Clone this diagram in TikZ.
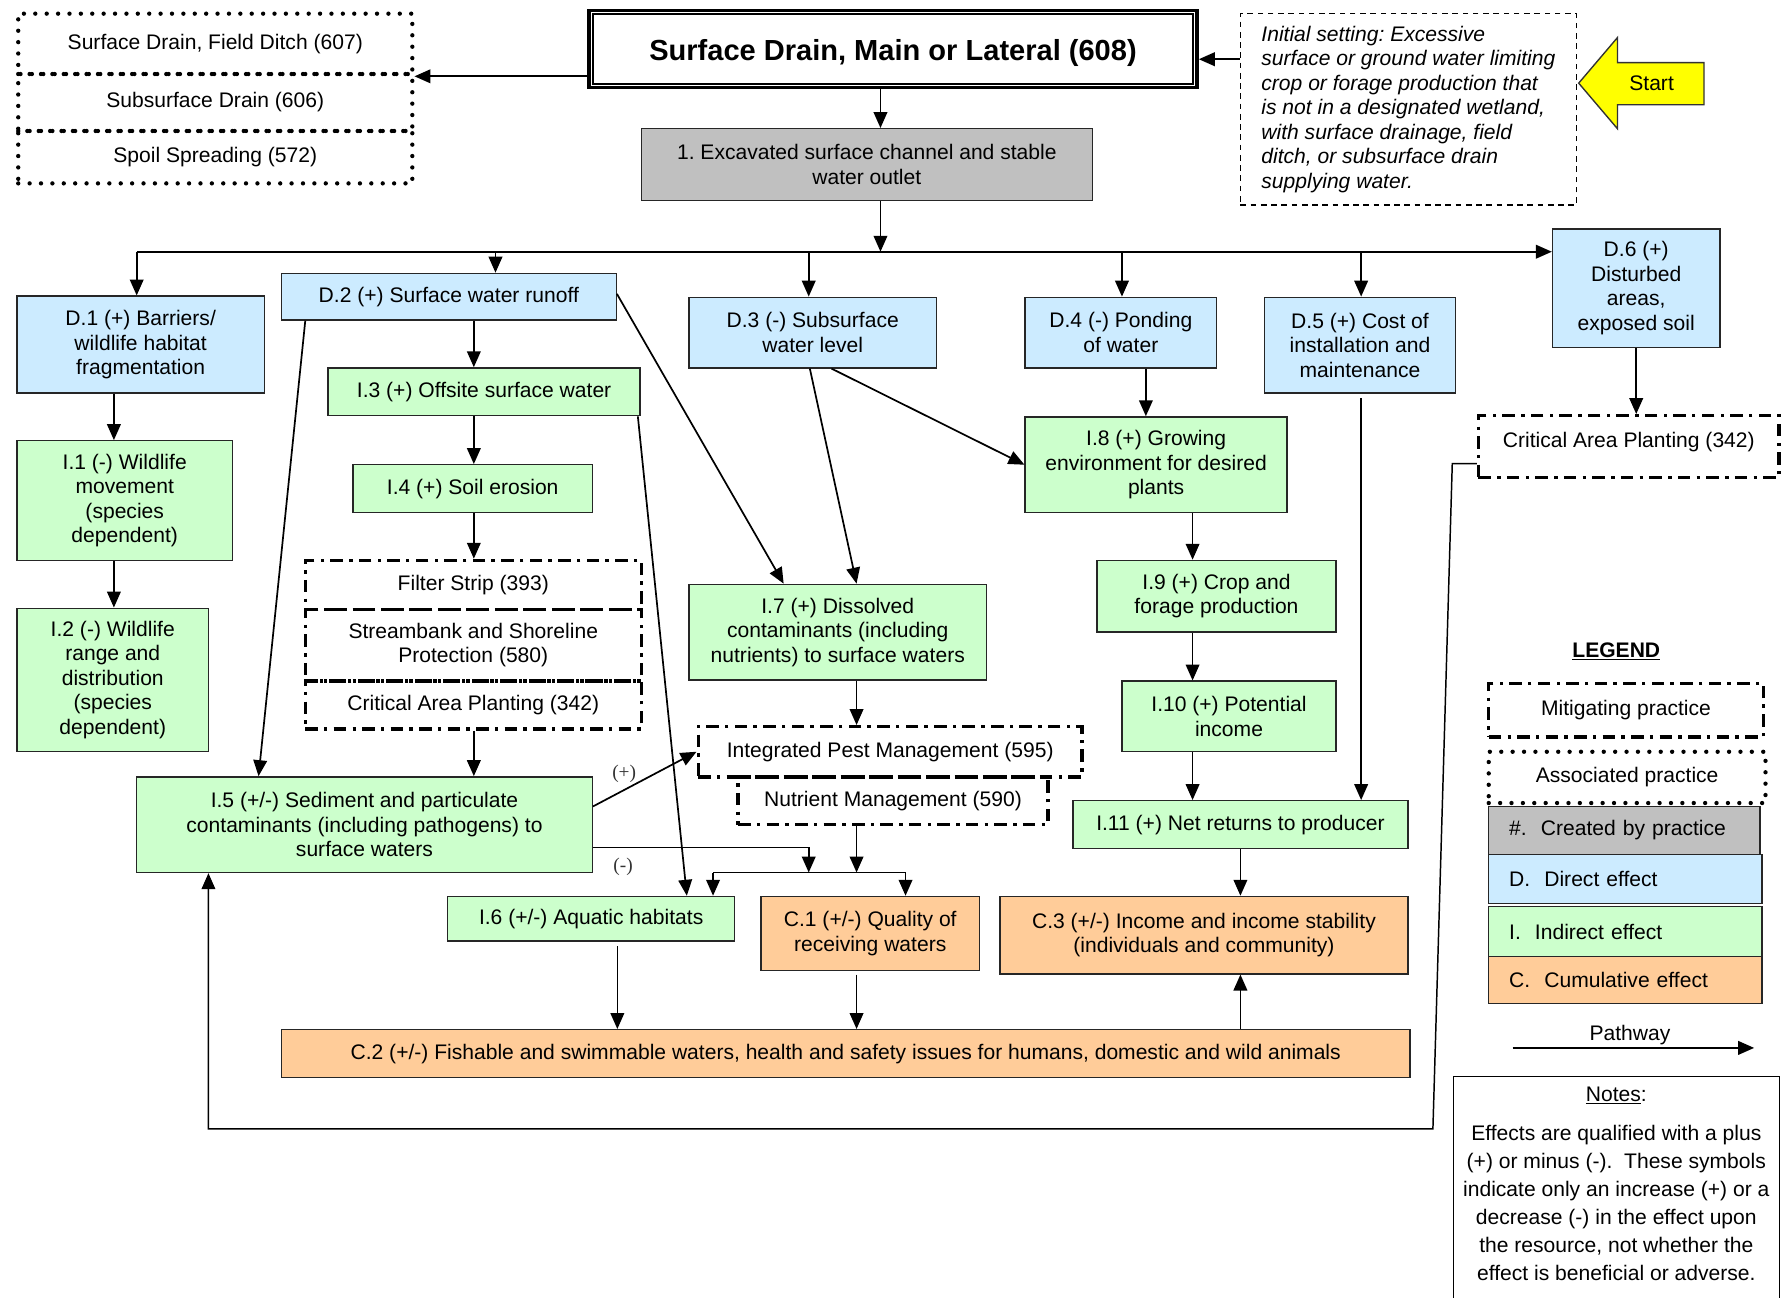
\documentclass[tikz,border=0pt]{standalone}
\usepackage{fontspec}
\setmainfont{Liberation Sans}
\newfontfamily\labelserif{Liberation Serif}
\usetikzlibrary{arrows.meta}

\definecolor{dirblue}{HTML}{CCEBFF}
\definecolor{indgreen}{HTML}{CCFFCC}
\definecolor{cumorange}{HTML}{FFCC99}
\definecolor{crgray}{HTML}{C0C0C0}
\definecolor{startyel}{HTML}{FFFF00}

\newcommand\bodyfont{\fontsize{18.5}{21.5}\selectfont}
\newcommand\notefont{\fontsize{18.5}{24.6}\selectfont}
\frenchspacing

\begin{document}
\begin{tikzpicture}[x=1pt,y=-1pt,
  effect/.style={draw=black!85, line width=1.2pt, inner sep=0pt, align=center, font=\bodyfont},
  created/.style={effect, fill=crgray},
  direct/.style={effect, fill=dirblue},
  indirect/.style={effect, fill=indgreen},
  cumul/.style={effect, fill=cumorange},
  mitig/.style={draw=black, line width=3pt, dash pattern=on 11pt off 5.5pt on 3pt off 5.5pt,
                inner sep=0pt, align=center, font=\bodyfont},
  assoc/.style={draw=black, line width=3.8pt, line cap=round, dash pattern=on 0pt off 10pt,
                inner sep=0pt, align=center, font=\bodyfont},
  sz/.style 2 args={minimum width=#1, minimum height=#2},
  arr/.style={draw=black, line width=1.5pt, -{Triangle[length=14pt,width=12pt]}},
  link/.style={draw=black, line width=1.5pt},
  sign/.style={font=\labelserif\fontsize{17}{17}\selectfont, text=black!80, inner sep=0pt}
]
\useasboundingbox (0,0) rectangle (1568,1139);

% ---- practice and starting condition ----
\node[draw=black, line width=3pt, sz={534pt}{68pt}, inner sep=0pt, text height=24pt, text depth=4pt,
      font=\fontsize{25.5}{30}\selectfont\bfseries] (main) at (784,43)
      {Surface Drain, Main or Lateral (608)};
\draw[line width=1.8pt] ([xshift=5pt,yshift=-5pt]main.north west)
      rectangle ([xshift=-5pt,yshift=5pt]main.south east);

\node[assoc, sz={346pt}{53pt}] (a607) at (189,38.5) {Surface Drain, Field Ditch (607)};
\node[assoc, sz={346pt}{50pt}] (a606) at (189,90) {Subsurface Drain (606)};
\node[assoc, sz={346pt}{46pt}] (a572) at (189,138) {Spoil Spreading (572)};

\node[draw=black, line width=1.2pt, dash pattern=on 5pt off 4pt, sz={295pt}{168pt},
      inner sep=0pt, align=left, font=\bodyfont\itshape] (init) at (1236.5,96)
      {Initial setting: Excessive\\surface or ground water limiting\\crop or forage production that\\
       is not in a designated wetland,\\with surface drainage, field\\ditch, or subsurface drain\\
       supplying water.};

\path[draw=black!80, line width=1.2pt, fill=startyel]
  (1386,73) -- (1420,33) -- (1420,55) -- (1496,55) -- (1496,92) -- (1420,92) -- (1420,113) -- cycle;
\node[font=\bodyfont, inner sep=0pt] (start) at (1450,73) {Start};

\node[created, sz={396pt}{63pt}] (g1) at (761,144.5)
      {1. Excavated surface channel and stable\\water outlet};

% ---- direct effects ----
\node[direct, sz={217pt}{85pt}] (d1) at (123.5,302.5) {D.1 (+) Barriers/\\wildlife habitat\\fragmentation};
\node[direct, sz={294pt}{41pt}] (d2) at (394,260.5) {D.2 (+) Surface water runoff};
\node[direct, sz={217pt}{62pt}] (d3) at (713.5,292) {D.3 (-) Subsurface\\water level};
\node[direct, sz={168pt}{62pt}] (d4) at (984,292) {D.4 (-) Ponding\\of water};
\node[direct, sz={168pt}{84pt}] (d5) at (1194,303) {D.5 (+) Cost of\\installation and\\maintenance};
\node[direct, sz={147pt}{104pt}] (d6) at (1436.5,253) {D.6 (+)\\Disturbed\\areas,\\exposed soil};

\node[mitig, sz={264pt}{54pt}, text height=14pt, text depth=12.5pt] (cap2) at (1430,392)
      {Critical Area Planting (342)};

% ---- indirect effects ----
\node[indirect, sz={189pt}{105pt}] (i1) at (109.5,439.5) {I.1 (-) Wildlife\\movement\\(species\\dependent)};
\node[indirect, sz={168pt}{126pt}] (i2) at (99,597) {I.2 (-) Wildlife\\range and\\distribution\\(species\\dependent)};
\node[indirect, sz={274pt}{42pt}] (i3) at (425,344) {I.3 (+) Offsite surface water};
\node[indirect, sz={210pt}{42pt}] (i4) at (415,429) {I.4 (+) Soil erosion};

\node[mitig, sz={295pt}{43pt}] (fs) at (415.5,513.5) {Filter Strip (393)};
\node[mitig, sz={295pt}{63pt}] (sb) at (415.5,566.5) {Streambank and Shoreline\\Protection (580)};
\node[mitig, sz={295pt}{42pt}] (cap1) at (415.5,619) {Critical Area Planting (342)};

\node[indirect, sz={400pt}{84pt}] (i5) at (320,724)
      {I.5 (+/-) Sediment and particulate\\contaminants (including pathogens) to\\surface waters};
\node[indirect, sz={252pt}{39pt}] (i6) at (519,806.5) {I.6 (+/-) Aquatic habitats};
\node[indirect, sz={261pt}{84pt}] (i7) at (735.5,555)
      {I.7 (+) Dissolved\\contaminants (including\\nutrients) to surface waters};

\node[mitig, sz={337pt}{44pt}] (ipm) at (781.5,660) {Integrated Pest Management (595)};
\node[mitig, sz={272pt}{42pt}] (nm) at (784,703) {Nutrient Management (590)};

\node[indirect, sz={230pt}{84pt}] (i8) at (1015,408) {I.8 (+) Growing\\environment for desired\\plants};
\node[indirect, sz={210pt}{63pt}] (i9) at (1068,523.5) {I.9 (+) Crop and\\forage production};
\node[indirect, sz={188pt}{62pt}] (i10) at (1079,629) {I.10 (+) Potential\\income};
\node[indirect, sz={294pt}{42pt}] (i11) at (1089,724) {I.11 (+) Net returns to producer};

% ---- cumulative effects ----
\node[cumul, sz={192pt}{65pt}] (c1) at (764,819.5) {C.1 (+/-) Quality of\\receiving waters};
\node[cumul, sz={358pt}{68pt}] (c3) at (1057,821) {C.3 (+/-) Income and income stability\\(individuals and community)};
\node[cumul, sz={991pt}{42pt}] (c2) at (742.5,925)
      {C.2 (+/-) Fishable and swimmable waters, health and safety issues for humans, domestic and wild animals};

% ---- pathways ----
\coordinate (bus) at (0,221);
\coordinate (busL) at (120,221);

\draw[arr] (init.west |- 0,52) -- (main.east |- 0,52);
\draw[arr] (main.west |- 0,67) -- (a607.east |- 0,67);
\draw[arr] (main.south -| 773,0) -- (g1.north -| 773,0);
\draw[arr] (g1.south -| 773,0) -- (773,221);

\draw[arr] (busL) -- (d6.west |- bus);
\draw[arr] (busL) -- (d1.north -| busL);
\draw[arr] (435,221) -- (d2.north -| 435,0);
\draw[arr] (710,221) -- (d3.north -| 710,0);
\draw[arr] (985,221) -- (d4.north -| 985,0);
\draw[arr] (1195,221) -- (d5.north -| 1195,0);

\draw[arr] (d6.south) -- (cap2.north -| d6.south);

\draw[arr] (d1.south -| 100,0) -- (i1.north -| 100,0);
\draw[arr] (i1.south -| 100,0) -- (i2.north -| 100,0);

\draw[arr] (d2.south -| 416,0) -- (i3.north -| 416,0);
\draw[arr] (i3.south -| 416,0) -- (i4.north -| 416,0);
\draw[arr] (i4.south -| 416,0) -- (fs.north -| 416,0);
\draw[arr] (cap1.south -| 416,0) -- (i5.north -| 416,0);
\draw[arr] (d2.south -| 268,0) -- (i5.north -| 227,0);
\draw[arr] (i3.south -| 560,0) -- (i6.north -| 603,0);
\draw[arr] (d2.east |- 0,258) -- (i7.north -| 688,0);

\draw[arr] (d3.south -| 711,0) -- (i7.north -| 752,0);
\draw[arr] (d3.south -| 730,0) -- (i8.west);
\draw[arr] (d4.south -| 1006,0) -- (i8.north -| 1006,0);
\draw[arr] (i8.south -| 1047,0) -- (i9.north -| 1047,0);
\draw[arr] (i9.south -| 1047,0) -- (i10.north -| 1047,0);
\draw[arr] (i10.south -| 1047,0) -- (i11.north -| 1047,0);
\draw[arr] ([yshift=-4pt]d5.south -| 1195,0) -- (i11.north -| 1195,0);
\draw[arr] (i11.south) -- (c3.north -| i11.south);
\draw[arr] (c2.north -| i11.south) -- (c3.south -| i11.south);

\draw[arr] (i7.south -| 752,0) -- (ipm.north -| 752,0);
\draw[arr] (i5.east |- 0,708) -- (ipm.west);
\draw[arr] (i5.east |- 0,744) -- (710,744) -- (710,766);
\draw[arr] (nm.south -| 752,0) -- (752,766);
\draw[link] (626,766) -- (795,766);
\draw[arr] (626,766) -- (i6.north -| 626,0);
\draw[arr] (795,766) -- (c1.north -| 795,0);

\draw[arr] ([yshift=-4pt]i6.south -| 542,0) -- (c2.north -| 542,0);
\draw[arr] ([yshift=-3pt]c1.south -| 752,0) -- (c2.north -| 752,0);

\draw[arr, line width=1.3pt] (cap2.west |- 0,407) -- (1275,407) -- (1258,991) -- (183,991) -- (i5.south -| 183,0);

\node[sign] (plus) at (548,679) {(+)};
\node[sign] (minus) at (547,761) {(-)};

% ---- legend ----
\node[font=\bodyfont\bfseries, inner sep=0pt] (legend) at (1419,572) {\underline{LEGEND}};
\node[mitig, sz={241pt}{47pt}] (lmit) at (1427.5,623.5) {Mitigating practice};
\node[assoc, sz={243pt}{45pt}] (lasc) at (1428.5,682.5) {Associated practice};
\node[created, sz={238pt}{42pt}, align=left, text width=202pt] (lcre) at (1426,729) {\#.\ \ Created by practice};
\node[direct, sz={240pt}{43pt}, align=left, text width=204pt] (ldir) at (1427,771.5) {D.\ \ Direct effect};
\node[indirect, sz={240pt}{44pt}, align=left, text width=204pt] (lind) at (1427,818) {I.\ \ Indirect effect};
\node[cumul, sz={240pt}{41pt}, align=left, text width=204pt] (lcum) at (1427,860.5) {C.\ \ Cumulative effect};

\node[font=\bodyfont, inner sep=0pt] (pathlbl) at (1431,909) {Pathway};
\coordinate (pathL) at (1328,920);
\coordinate (pathR) at (1540,920);
\draw[arr] (pathL) -- (pathR);

\draw[line width=1.2pt] (1276,1145) -- (1276,945) -- (1562,945) -- (1562,1145);
\node[font=\bodyfont, inner sep=0pt] (notes) at (1419,962) {\underline{Notes}:};
\node[font=\notefont, align=center, inner sep=0pt] (notebody) at (1419,1056)
      {Effects are qualified with a plus\\(+) or minus (-).\ \ These symbols\\indicate only an increase (+) or a\\
       decrease (-) in the effect upon\\the resource, not whether the\\effect is beneficial or adverse.};
\end{tikzpicture}
\end{document}
